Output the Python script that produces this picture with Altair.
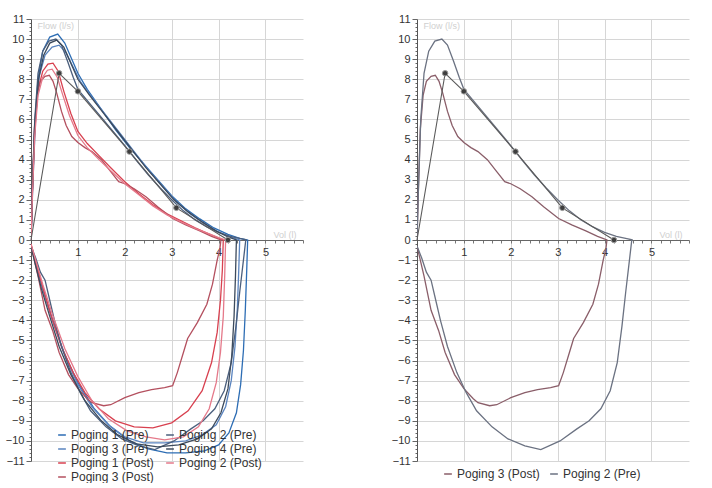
import altair as alt
import pandas as pd

# ---------------- data ----------------
# legend is laid out column by column (4 rows x 2 columns)
LEFT_SERIES = ["Poging 1 (Pre)", "Poging 3 (Pre)", "Poging 1 (Post)", "Poging 3 (Post)",
               "Poging 2 (Pre)", "Poging 4 (Pre)", "Poging 2 (Post)"]
LEFT_COLORS = ["#2d6db4", "#5a84bf", "#d8404f", "#b4505f", "#4b5f7d", "#3c4a5c", "#e5798a"]
RIGHT_SERIES = ["Poging 3 (Post)", "Poging 2 (Pre)"]
RIGHT_COLORS = ["#8a5e69", "#6b7282"]

P1_PRE_VOL = [0, 0.03, 0.08, 0.15, 0.25, 0.4, 0.57, 0.72, 0.87, 1.0, 1.2, 1.5, 1.8, 2.1, 2.4, 2.7, 3.0, 3.3, 3.6, 3.9, 4.2, 4.45, 4.62,
              4.6, 4.57, 4.53, 4.47, 4.38, 4.22, 4.0, 3.7, 3.3, 2.9, 2.5, 2.1, 1.7, 1.35, 1.0, 0.7, 0.45, 0.25, 0.1, 0]
P1_PRE_FLOW = [0, 2.6, 5.8, 8.0, 9.4, 10.1, 10.25, 9.8, 9.0, 8.3, 7.5, 6.5, 5.5, 4.6, 3.8, 3.0, 2.2, 1.55, 1.05, 0.6, 0.28, 0.08, 0,
               -1.5, -3.5, -5.5, -7.2, -8.6, -9.6, -10.2, -10.5, -10.6, -10.6, -10.4, -10.0, -9.3, -8.4, -7.1, -5.6, -3.9, -2.4, -1.1, -0.3]

P2_PRE_VOL = [0, 0.03, 0.08, 0.15, 0.25, 0.38, 0.53, 0.65, 0.78, 0.9, 1.0, 1.25, 1.5, 1.75, 2.0, 2.25, 2.5, 2.75, 3.0, 3.25, 3.5, 3.75, 4.0, 4.25, 4.5, 4.6,
              4.58, 4.52, 4.45, 4.37, 4.27, 4.12, 3.92, 3.67, 3.41, 3.05, 2.64, 2.3, 1.94, 1.6, 1.27, 1.05, 0.85, 0.65, 0.5, 0.38, 0.3, 0.2, 0.1, 0]
P2_PRE_FLOW = [0, 2.5, 6.0, 8.3, 9.4, 9.9, 10.0, 9.7, 8.9, 8.1, 7.5, 6.8, 6.1, 5.4, 4.7, 3.95, 3.25, 2.6, 2.0, 1.45, 1.0, 0.65, 0.38, 0.18, 0.06, 0,
               0, -1.2, -2.6, -4.3, -6.1, -7.5, -8.4, -9.0, -9.4, -10.0, -10.43, -10.25, -9.9, -9.3, -8.5, -7.6, -6.6, -5.3, -4.0, -2.8, -2.0, -1.6, -0.9, -0.3]

P3_PRE_VOL = [0, 0.04, 0.1, 0.18, 0.3, 0.45, 0.6, 0.75, 0.9, 1.05, 1.3, 1.6, 1.9, 2.2, 2.5, 2.8, 3.1, 3.4, 3.7, 4.0, 4.25, 4.45,
              4.43, 4.4, 4.35, 4.27, 4.15, 3.95, 3.65, 3.3, 2.85, 2.4, 2.0, 1.65, 1.3, 1.0, 0.75, 0.5, 0.3, 0.12, 0]
P3_PRE_FLOW = [0, 2.8, 6.2, 8.2, 9.2, 9.6, 9.7, 9.3, 8.6, 7.9, 7.1, 6.2, 5.3, 4.4, 3.5, 2.7, 1.9, 1.3, 0.8, 0.4, 0.15, 0,
               -1.5, -3.4, -5.3, -7.0, -8.3, -9.2, -9.7, -10.0, -10.1, -10.1, -9.8, -9.2, -8.3, -7.2, -5.9, -4.3, -2.8, -1.3, -0.3]

P4_PRE_VOL = [0, 0.03, 0.08, 0.16, 0.27, 0.4, 0.55, 0.7, 0.85, 1.0, 1.25, 1.55, 1.85, 2.15, 2.45, 2.75, 3.05, 3.35, 3.65, 3.95, 4.2, 4.38,
              4.36, 4.33, 4.28, 4.2, 4.05, 3.85, 3.55, 3.15, 2.7, 2.25, 1.85, 1.5, 1.15, 0.85, 0.6, 0.4, 0.22, 0.08, 0]
P4_PRE_FLOW = [0, 2.4, 5.6, 8.0, 9.2, 9.8, 9.95, 9.6, 8.8, 8.0, 7.2, 6.3, 5.4, 4.5, 3.6, 2.8, 2.0, 1.4, 0.9, 0.45, 0.15, 0,
               -1.8, -3.8, -5.8, -7.4, -8.6, -9.4, -9.9, -10.2, -10.3, -10.15, -9.7, -9.0, -8.0, -6.7, -5.3, -3.8, -2.4, -1.1, -0.3]

P1_POST_VOL = [0, 0.03, 0.08, 0.15, 0.25, 0.36, 0.47, 0.58, 0.7, 0.85, 1.0, 1.2, 1.45, 1.7, 2.0, 2.3, 2.6, 2.9, 3.2, 3.5, 3.8, 4.0, 4.1,
               4.08, 4.04, 3.97, 3.85, 3.65, 3.35, 3.0, 2.6, 2.2, 1.8, 1.45, 1.15, 0.9, 0.65, 0.42, 0.22, 0.08, 0]
P1_POST_FLOW = [0, 2.5, 5.5, 7.5, 8.4, 8.75, 8.8, 8.4, 7.4, 6.3, 5.4, 4.8, 4.2, 3.6, 2.9, 2.3, 1.75, 1.3, 0.95, 0.6, 0.3, 0.1, 0,
                -1.5, -3.0, -4.6, -6.1, -7.5, -8.5, -9.1, -9.35, -9.3, -9.0, -8.4, -7.6, -6.6, -5.3, -3.7, -2.1, -0.9, -0.2]

P2_POST_VOL = [0, 0.03, 0.08, 0.15, 0.25, 0.35, 0.45, 0.56, 0.68, 0.82, 1.0, 1.2, 1.45, 1.7, 2.0, 2.3, 2.6, 2.9, 3.2, 3.5, 3.8, 4.0, 4.15,
               4.13, 4.1, 4.04, 3.95, 3.8, 3.57, 3.25, 2.85, 2.45, 2.05, 1.65, 1.3, 1.0, 0.72, 0.47, 0.25, 0.1, 0]
P2_POST_FLOW = [0, 2.2, 5.2, 7.2, 8.1, 8.45, 8.5, 8.1, 7.2, 6.2, 5.2, 4.6, 4.0, 3.45, 2.8, 2.25, 1.7, 1.25, 0.9, 0.58, 0.3, 0.12, 0,
                -1.8, -3.8, -5.6, -7.1, -8.4, -9.3, -9.8, -9.95, -9.8, -9.5, -8.9, -8.0, -6.8, -5.4, -3.8, -2.2, -1.0, -0.2]

P3_POST_VOL = [0, 0.03, 0.07, 0.13, 0.2, 0.3, 0.39, 0.47, 0.55, 0.65, 0.75, 0.87, 1.0, 1.15, 1.3, 1.5, 1.7, 1.87, 2.0, 2.2, 2.45, 2.7, 3.02, 3.3, 3.6, 3.85, 4.05,
               4.03, 3.97, 3.87, 3.75, 3.55, 3.34, 3.25, 3.12, 3.02, 2.85, 2.57, 2.3, 2.0, 1.7, 1.55, 1.3, 1.2, 1.0, 0.8, 0.6, 0.46, 0.3, 0.15, 0]
P3_POST_FLOW = [0, 2.5, 5.5, 7.2, 7.9, 8.15, 8.2, 7.9, 7.3, 6.4, 5.7, 5.15, 4.85, 4.6, 4.4, 4.0, 3.4, 2.9, 2.8, 2.55, 2.15, 1.65, 1.07, 0.75, 0.45, 0.18, 0,
                -0.4, -1.0, -2.2, -3.2, -4.1, -4.9, -5.6, -6.6, -7.25, -7.35, -7.45, -7.6, -7.85, -8.2, -8.25, -8.1, -7.9, -7.4, -6.7, -5.6, -4.5, -3.5, -1.8, -0.3]

PRED_VOL = [0, 0.6, 1.0, 2.1, 3.1, 4.2]
PRED_FLOW = [0, 8.3, 7.4, 4.4, 1.6, 0]

X_TICKS = [round(i * 0.2, 1) for i in range(0, 30)]
Y_TICKS = [round(i * 0.2, 1) for i in range(-55, 56)]

CURVES = {
    "Poging 1 (Pre)": (P1_PRE_VOL, P1_PRE_FLOW),
    "Poging 2 (Pre)": (P2_PRE_VOL, P2_PRE_FLOW),
    "Poging 3 (Pre)": (P3_PRE_VOL, P3_PRE_FLOW),
    "Poging 4 (Pre)": (P4_PRE_VOL, P4_PRE_FLOW),
    "Poging 1 (Post)": (P1_POST_VOL, P1_POST_FLOW),
    "Poging 2 (Post)": (P2_POST_VOL, P2_POST_FLOW),
    "Poging 3 (Post)": (P3_POST_VOL, P3_POST_FLOW),
}

W, H = 272, 442
FONT = "Liberation Sans"


def curves_df(names):
    rows = []
    for name in names:
        vols, flows = CURVES[name]
        for i, (v, f) in enumerate(zip(vols, flows)):
            rows.append({"serie": name, "idx": i, "vol": v, "flow": f})
    return pd.DataFrame(rows)


pred_df = pd.DataFrame({"vol": PRED_VOL, "flow": PRED_FLOW, "idx": list(range(len(PRED_VOL)))})
pred_pts = pred_df[pred_df["idx"] > 0]

INT_TEST = "datum.value % 1 === 0"


def x_enc():
    return alt.X(
        "vol:Q",
        scale=alt.Scale(domain=[0, 5.8], nice=False, zero=False),
        axis=alt.Axis(
            values=X_TICKS, orient="bottom", offset=-H / 2,
            labelExpr="datum.value % 1 === 0 && datum.value > 0 ? format(datum.value, 'd') : ''",
            gridOpacity={"condition": {"test": INT_TEST + " && datum.value > 0", "value": 1}, "value": 0},
            tickSize=3, tickColor="#777", domainColor="#666", gridColor="#d6d6d6",
            labelFontSize=11, labelColor="#333", labelPadding=3, labelFlush=False,
            title="Vol (l)", titleX=W - 30, titleY=-10, titleAlign="left",
            titleFontSize=9, titleFontWeight="normal", titleColor="#cfcfcf",
        ),
    )


def y_enc():
    return alt.Y(
        "flow:Q",
        scale=alt.Scale(domain=[-11, 11], nice=False, zero=False),
        axis=alt.Axis(
            values=Y_TICKS,
            labelExpr="datum.value % 1 === 0 ? format(datum.value, 'd') : ''",
            gridOpacity={"condition": {"test": INT_TEST, "value": 1}, "value": 0},
            tickSize={"condition": {"test": INT_TEST, "value": 5}, "value": 2},
            tickColor="#666", domainColor="#555", gridColor="#d6d6d6",
            labelFontSize=11, labelColor="#333", labelPadding=2,
            title="Flow (l/s)", titleAngle=0, titleX=6, titleY=6, titleAlign="left",
            titleBaseline="middle", titleFontSize=9, titleFontWeight="normal", titleColor="#cfcfcf",
        ),
    )


def panel(names, colors, legend):
    df = curves_df(names)
    lines = alt.Chart(df).mark_line(strokeWidth=1.3, clip=True).encode(
        x=x_enc(), y=y_enc(),
        color=alt.Color("serie:N", scale=alt.Scale(domain=names, range=colors), legend=legend),
        order=alt.Order("idx:Q"),
        detail="serie:N",
    )
    pred_line = alt.Chart(pred_df).mark_line(color="#5a5a5a", strokeWidth=1.1).encode(
        x=x_enc(), y=y_enc(), order=alt.Order("idx:Q"))
    pred_mark = alt.Chart(pred_pts).mark_point(
        filled=True, color="#3e3e3e", size=30, stroke="#9a9a9a", strokeWidth=1, opacity=1
    ).encode(x=x_enc(), y=y_enc())
    return alt.layer(lines, pred_line, pred_mark).properties(width=W, height=H)


left_legend = alt.Legend(
    orient="none", legendX=25, legendY=410, columns=2, title=None,
    symbolType="stroke", symbolSize=60, symbolStrokeWidth=1.5,
    labelFontSize=12, labelColor="#333", labelFont=FONT, rowPadding=2, columnPadding=9,
    labelOffset=3, padding=0,
)
right_legend = alt.Legend(
    orient="none", legendX=25, legendY=449, direction="horizontal", title=None,
    symbolType="stroke", symbolSize=60, symbolStrokeWidth=1.5,
    labelFontSize=12, labelColor="#333", labelFont=FONT, columnPadding=7,
    labelOffset=3, padding=0,
)

left = panel(LEFT_SERIES, LEFT_COLORS, left_legend)
right = panel(RIGHT_SERIES, RIGHT_COLORS, right_legend)

chart = (
    alt.hconcat(left, right, spacing=87)
    .resolve_scale(color="independent")
    .properties(padding={"left": 5, "top": 13, "right": 5, "bottom": 0}, background="white")
    .configure(font=FONT)
    .configure_view(strokeWidth=0)
)

chart.save("out.html", embed_options={"renderer": "svg", "actions": False})
